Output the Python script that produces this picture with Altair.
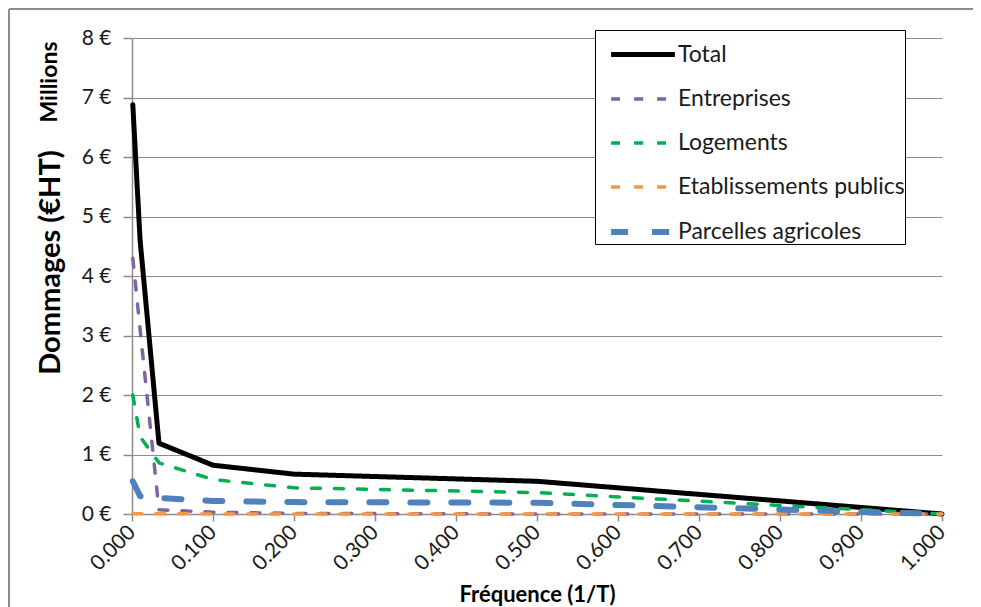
import altair as alt
import pandas as pd

# Frequency (1/T)
freq = [0.001, 0.01, 0.0333, 0.1, 0.2, 0.5, 1.0]
# Damages in millions of euros
total = [6.88, 4.60, 1.19, 0.82, 0.67, 0.55, 0.0]
entreprises = [4.30, 3.10, 0.07, 0.03, 0.01, 0.0, 0.0]
logements = [2.00, 1.30, 0.86, 0.58, 0.44, 0.36, 0.0]
etablissements = [0.01, 0.005, 0.003, 0.002, 0.001, 0.0, 0.0]
parcelles = [0.55, 0.30, 0.27, 0.22, 0.20, 0.19, 0.0]

series_names = ["Total", "Entreprises", "Logements", "Etablissements publics", "Parcelles agricoles"]
series_values = [total, entreprises, logements, etablissements, parcelles]
colors = ["#000000", "#8064A2", "#00B050", "#F79646", "#4F81BD"]
dashes = [[1, 0], [9, 14], [9, 14], [9, 14], [17, 24]]
widths = [5, 3.5, 3.5, 3.5, 6]

x_ticks = [round(i * 0.1, 1) for i in range(11)]
y_ticks = list(range(9))

rows = []
for name, vals in zip(series_names, series_values):
    for f, v in zip(freq, vals):
        rows.append({"serie": name, "freq": f, "val": v})
df = pd.DataFrame(rows)
one = pd.DataFrame({"t": ["Millions"]})

FONT = "Lato"
GRAY = "#8C8C8C"

legend = alt.Legend(
    title=None,
    orient="none",
    legendX=463,
    legendY=-8,
    padding=0,
    strokeColor="#000000",
    fillColor="#FFFFFF",
    symbolType="M-1.45,0H1.45",
    symbolSize=1936,
    symbolOffset=23,
    labelOffset=10,
    labelFont=FONT,
    labelFontSize=23,
    labelColor="#1a1a1a",
    rowPadding=8,
    labelLimit=400,
)

lines = alt.Chart(df).mark_line(strokeCap="round", strokeJoin="round").encode(
    x=alt.X("freq:Q",
            scale=alt.Scale(domain=[0, 1], nice=False),
            axis=alt.Axis(values=x_ticks, format=".3f", labelAngle=315,
                          labelAlign="right", labelBaseline="middle",
                          labelPadding=8, tickSize=7, grid=False,
                          labelFontSize=21,
                          title="Fréquence (1/T)", titleY=80,
                          titleBaseline="middle", titleFontSize=22)),
    y=alt.Y("val:Q",
            scale=alt.Scale(domain=[0, 8], nice=False),
            axis=alt.Axis(values=y_ticks, labelExpr="datum.value + ' €'",
                          tickSize=9, labelPadding=12, grid=True,
                          labelFontSize=21,
                          title="Dommages (€HT)", titleX=-82, titleY=224,
                          titleAngle=270, titleBaseline="middle",
                          titleAlign="center", titleFontSize=29)),
    color=alt.Color("serie:N", sort=series_names,
                    scale=alt.Scale(domain=series_names, range=colors),
                    legend=legend),
    strokeDash=alt.StrokeDash("serie:N", sort=series_names,
                              scale=alt.Scale(type="ordinal", domain=series_names, range=dashes),
                              legend=legend),
    strokeWidth=alt.StrokeWidth("serie:N", sort=series_names,
                                scale=alt.Scale(type="ordinal", domain=series_names, range=widths),
                                legend=legend),
    order=alt.Order("freq:Q"),
)

millions = alt.Chart(one).mark_text(
    angle=270, font=FONT, fontSize=23, fontWeight="bold",
    baseline="middle", align="center", color="#000000"
).encode(text="t:N", x=alt.value(-82), y=alt.value(44))

frame_left = alt.Chart(one).mark_rule(color=GRAY, strokeWidth=2, clip=False).encode(
    x=alt.value(-123), y=alt.value(-29), y2=alt.value(620))
frame_top = alt.Chart(one).mark_rule(color=GRAY, strokeWidth=2, clip=False).encode(
    x=alt.value(-123), x2=alt.value(860), y=alt.value(-29))

chart = alt.layer(frame_left, frame_top, lines, millions).properties(
    width=810,
    height=476,
    autosize=alt.AutoSizeParams(type="none"),
    padding={"left": 124, "top": 30, "right": 31, "bottom": 95},
).configure_view(stroke="transparent").configure_axis(
    labelFont=FONT,
    labelColor="#1a1a1a",
    titleFont=FONT,
    titleFontWeight="bold",
    titleColor="#000000",
    domainColor=GRAY,
    tickColor=GRAY,
    gridColor=GRAY,
    domainWidth=1.5,
    tickWidth=1.5,
    gridWidth=1,
)

chart.save("out.html", embed_options={"renderer": "svg", "actions": False})
